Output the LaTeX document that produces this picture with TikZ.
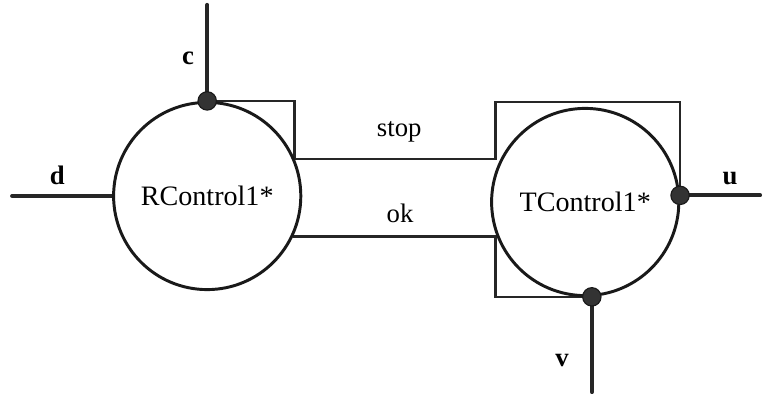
\documentclass[tikz,border=0pt]{standalone}
\usepackage{fontspec}
\setmainfont{Liberation Serif}
\usetikzlibrary{positioning, calc, backgrounds}
\tikzset{
  every picture/.style={line width=1.9pt},
  proc/.style={circle, draw=black!90, line width=2.1pt, minimum size=4.68cm, inner sep=0pt, font=\fontsize{20}{24}\selectfont},
  port/.style={circle, fill=black!80, draw=black!90, line width=0.8pt, minimum size=0.46cm, inner sep=0pt},
  wire/.style={line width=2.9pt, line cap=round, draw=black!85},
  frame/.style={line width=1.9pt, draw=black!85},
  sig/.style={font=\fontsize{19}{23}\selectfont\bfseries, anchor=base},
  chan/.style={font=\fontsize{19}{23}\selectfont, anchor=base},
}

\begin{document}
\begin{tikzpicture}
  \useasboundingbox (0,0) rectangle (19.15,9.85);
  % the two processes
  \node[proc] (R) at (5.18,4.95) {RControl1*};
  \node[proc] (T) at (14.63,4.8) {TControl1*};
  % ports on the border
  \node[port] (cp) at (R.north) {};
  \node[port] (up) at (T.4) {};
  \node[port] (vp) at (T.-86) {};
  % free ends of the signals
  \coordinate[above=2.4cm of cp.center] (cend);
  \coordinate[left=2.5cm of R.west] (dend);
  \coordinate[right=2.0cm of up.center] (uend);
  \coordinate[below=2.38cm of vp.center] (vend);
  % where the channels leave the circles
  \coordinate (s1) at (R.23);
  \coordinate (o1) at (R.-25);
  \coordinate (tl) at (12.38,7.3);
  \begin{scope}[on background layer]
    \draw[wire] (cp.center) -- (cend);
    \draw[wire] (dend) -- (R.west);
    \draw[wire] (up.center) -- (uend);
    \draw[wire] (vp.center) -- (vend);
    \draw[frame] (cp.center) -| (s1);
    \draw[frame] (s1) -- (s1 -| tl) -- (tl) -| (up.center);
    \draw[frame] (o1) -- (o1 -| tl) |- (vp.center);
  \end{scope}
  % labels
  \node[sig] (lc) at (4.7,8.225) {c};
  \node[sig] (ld) at (1.43,5.225) {d};
  \node[chan] (lstop) at (9.98,6.425) {stop};
  \node[chan] (lok) at (10.0,4.275) {ok};
  \node[sig] (lu) at (18.25,5.225) {u};
  \node[sig] (lv) at (14.05,0.675) {v};
\end{tikzpicture}
\end{document}
